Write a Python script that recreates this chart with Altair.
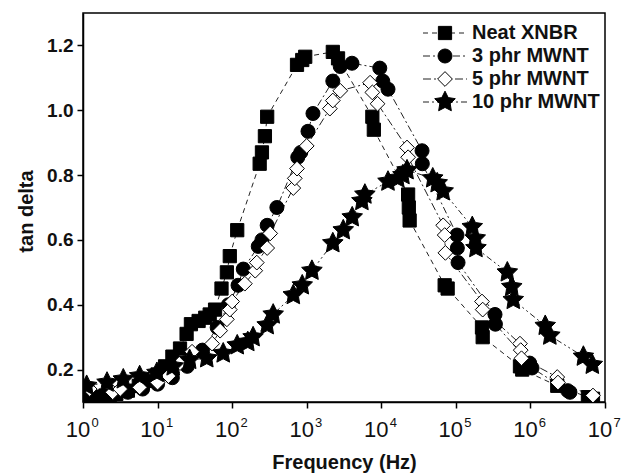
import altair as alt
import pandas as pd

series_names = ["Neat XNBR", "3 phr MWNT", "5 phr MWNT", "10 phr MWNT"]

neat_f = [1, 1.41, 2.0, 2.8, 4.0, 5.6, 7.9, 10, 12.6, 15.8, 20, 24.5, 28, 35.5, 43.6, 50, 59, 72, 85, 93,
          117, 234, 251, 275, 295, 741, 871, 955, 2239, 2630, 7586, 7943, 22900, 23400, 24000,
          70800, 77600, 224000, 229000, 724000, 776000, 2.29e6, 5.9e6, 6.9e6]
neat_t = [0.11, 0.115, 0.12, 0.125, 0.135, 0.15, 0.165, 0.185, 0.21, 0.24, 0.265, 0.31, 0.34, 0.35, 0.36, 0.37,
          0.385, 0.45, 0.50, 0.55, 0.63, 0.835, 0.87, 0.92, 0.98, 1.14, 1.155, 1.165, 1.18, 1.16, 0.98, 0.94,
          0.74, 0.70, 0.66, 0.46, 0.45, 0.33, 0.30, 0.21, 0.20, 0.15, 0.115, 0.11]

p3_f = [1, 1.58, 2.5, 4.0, 6.3, 10, 15.8, 25, 40, 63, 89, 120, 141, 224, 251, 295, 398, 759, 832, 1040, 1213,
        2239, 2818, 4046, 9550, 10470, 12300, 35200, 35500, 103500, 104700, 107000, 335000, 339000,
        977000, 1.05e6, 3.16e6, 3.39e6]
p3_t = [0.12, 0.115, 0.12, 0.13, 0.14, 0.155, 0.175, 0.21, 0.26, 0.33, 0.40, 0.46, 0.51, 0.58, 0.60, 0.645,
        0.70, 0.855, 0.87, 0.935, 0.99, 1.09, 1.135, 1.145, 1.13, 1.09, 1.065, 0.875, 0.835, 0.615, 0.575,
        0.53, 0.37, 0.34, 0.22, 0.205, 0.135, 0.13]

p5_f = [1.23, 2.5, 3.16, 5.75, 10, 14, 20, 29, 54, 69, 85, 93, 100, 148, 204, 214, 295, 324, 661, 692, 741,
        1000, 2042, 2239, 2818, 7079, 7586, 8913, 22130, 22900, 67600, 70800, 72400, 224000, 229000,
        724000, 741000, 759000, 2.29e6, 2.34e6, 6.9e6]
p5_t = [0.14, 0.13, 0.14, 0.145, 0.16, 0.18, 0.22, 0.255, 0.28, 0.32, 0.355, 0.385, 0.41, 0.465, 0.505,
        0.53, 0.575, 0.62, 0.76, 0.79, 0.82, 0.89, 1.005, 1.03, 1.06, 1.085, 1.055, 1.02, 0.885, 0.855,
        0.645, 0.615, 0.56, 0.41, 0.385, 0.28, 0.26, 0.235, 0.177, 0.16, 0.12]

p10_f = [1.12, 2.1, 3.47, 5.75, 9.8, 16.2, 26.9, 45.7, 75.9, 117, 162, 191, 295, 355, 661, 871, 1175, 2239,
         3090, 4074, 5495, 6026, 12300, 16600, 19500, 22130, 49000, 56200, 67600, 166000, 182000, 186000,
         490000, 562000, 589000, 1.58e6, 1.82e6, 5.13e6, 6.76e6]
p10_t = [0.15, 0.16, 0.17, 0.18, 0.19, 0.21, 0.23, 0.235, 0.25, 0.275, 0.285, 0.30, 0.337, 0.37, 0.43, 0.46,
         0.505, 0.59, 0.63, 0.67, 0.72, 0.74, 0.78, 0.79, 0.80, 0.815, 0.79, 0.775, 0.75, 0.64, 0.605, 0.575,
         0.50, 0.455, 0.415, 0.335, 0.305, 0.24, 0.215]

decade_f = [1, 10, 100, 1000, 1e4, 1e5, 1e6, 1e7]
decade_exp = ["0", "1", "2", "3", "4", "5", "6", "7"]
y_ticks = [0.2, 0.4, 0.6, 0.8, 1.0, 1.2]

rows = []
for name, fs, ts in zip(series_names, [neat_f, p3_f, p5_f, p10_f], [neat_t, p3_t, p5_t, p10_t]):
    for f, t in zip(fs, ts):
        rows.append({"series": name, "freq": f, "tan": t})
df = pd.DataFrame(rows)

legend_df = pd.DataFrame({"series": series_names, "ly": [20 + 23 * i for i in range(len(series_names))]})
dec_df = pd.DataFrame({"f": decade_f, "e": decade_exp, "base": ["10"] * len(decade_f)})

FONT = "Liberation Sans"
W, H = 522, 389

STAR = ("M0,-1.4L0.41,-0.57L1.33,-0.43L0.67,0.22L0.82,1.13L0,0.7"
        "L-0.82,1.13L-0.67,0.22L-1.33,-0.43L-0.41,-0.57Z")

shape_scale = alt.Scale(domain=series_names, range=["square", "circle", "diamond", STAR])
fill_scale = alt.Scale(domain=series_names, range=["black", "black", "white", "black"])
dash_scale = alt.Scale(domain=series_names,
                       range=[[5, 4], [7, 3, 2, 3], [8, 3, 2, 3], [6, 3, 2, 3, 2, 3]])
size_scale = alt.Scale(domain=series_names, range=[175, 240, 300, 280])

xscale = alt.Scale(type="log", domain=[1, 1e7], nice=False)
yscale = alt.Scale(domain=[0.1, 1.3], nice=False, zero=False)

xaxis = alt.Axis(values=decade_f, labels=False, tickSize=6, tickWidth=1.5, tickColor="black",
                 domainColor="black", domainWidth=1.5, grid=False, title="Frequency (Hz)",
                 titleFont=FONT, titleFontSize=20, titleFontWeight="bold", titleColor="#111",
                 titleBaseline="alphabetic", titleY=66)
yaxis = alt.Axis(values=y_ticks, format=".1f", tickSize=6, tickWidth=1.5, tickColor="black",
                 domainColor="black", domainWidth=1.5, grid=False, labelFont=FONT, labelFontSize=19,
                 labelFontWeight="bold", labelColor="#111", labelPadding=4, title="tan delta",
                 titleFont=FONT, titleFontSize=20, titleFontWeight="bold", titleColor="#111",
                 titleBaseline="alphabetic", titleX=-51, titleY=198, titleAlign="center", titleAngle=270)

base = alt.Chart(df)

lines = base.mark_line(color="#222", strokeWidth=1, clip=True).encode(
    x=alt.X("freq:Q", scale=xscale, axis=xaxis),
    y=alt.Y("tan:Q", scale=yscale, axis=yaxis),
    strokeDash=alt.StrokeDash("series:N", scale=dash_scale, legend=None),
    order=alt.Order("freq:Q"),
)

points = base.mark_point(filled=False, stroke="black", strokeWidth=1, opacity=1, clip=True).encode(
    x=alt.X("freq:Q", scale=xscale),
    y=alt.Y("tan:Q", scale=yscale),
    shape=alt.Shape("series:N", scale=shape_scale, legend=None),
    fill=alt.Fill("series:N", scale=fill_scale, legend=None),
    size=alt.Size("series:N", scale=size_scale, legend=None),
)

lab_base = alt.Chart(dec_df).mark_text(font=FONT, fontSize=22, color="#111", align="center",
                                       baseline="alphabetic", dx=-5).encode(
    x=alt.X("f:Q", scale=xscale), y=alt.value(H + 35), text="base:N")
lab_exp = alt.Chart(dec_df).mark_text(font=FONT, fontSize=13, color="#111", align="center",
                                      baseline="alphabetic", dx=12).encode(
    x=alt.X("f:Q", scale=xscale), y=alt.value(H + 25), text="e:N")

leg_lines = alt.Chart(legend_df).mark_rule(color="#222", strokeWidth=1).encode(
    x=alt.value(340), x2=alt.value(384),
    y=alt.Y("ly:Q", scale=None),
    strokeDash=alt.StrokeDash("series:N", scale=dash_scale, legend=None),
)
leg_points = alt.Chart(legend_df).mark_point(filled=False, stroke="black", strokeWidth=1, opacity=1).encode(
    x=alt.value(362),
    y=alt.Y("ly:Q", scale=None),
    shape=alt.Shape("series:N", scale=shape_scale, legend=None),
    fill=alt.Fill("series:N", scale=fill_scale, legend=None),
    size=alt.Size("series:N", scale=size_scale, legend=None),
)
leg_text = alt.Chart(legend_df).mark_text(font=FONT, fontSize=20, fontWeight="bold", color="#111",
                                          align="left", baseline="middle").encode(
    x=alt.value(389),
    y=alt.Y("ly:Q", scale=None),
    text="series:N",
)

chart = alt.layer(lines, points, lab_base, lab_exp, leg_lines, leg_points, leg_text).properties(
    width=W, height=H,
    autosize=alt.AutoSizeParams(type="none"),
    padding={"left": 83, "top": 13, "right": 18, "bottom": 74},
    background="white",
).configure_view(stroke="black", strokeWidth=1.5)

chart.save("out.html", embed_options={"renderer": "svg", "actions": False})
